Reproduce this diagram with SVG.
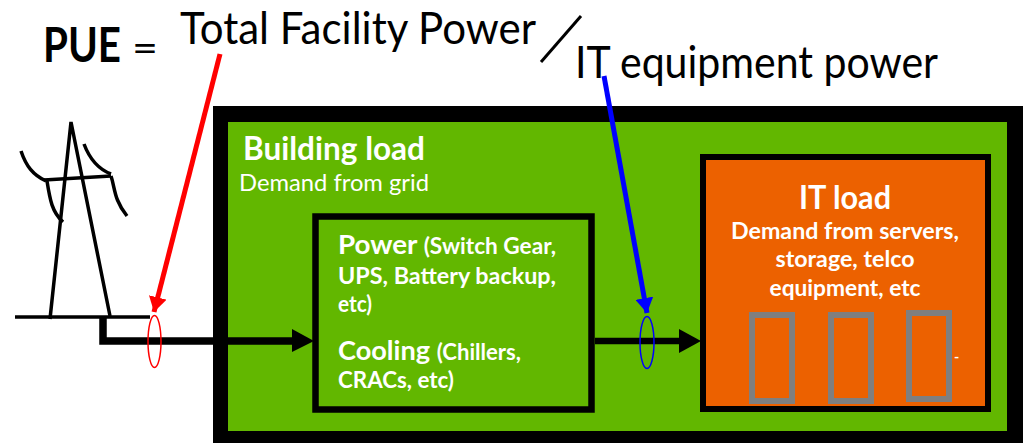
<svg xmlns="http://www.w3.org/2000/svg" width="1024" height="443" viewBox="0 0 1024 443">
<style>
text{font-family:"Lato","Liberation Sans",sans-serif}
.k{fill:#000}
.w{fill:#fff}
.b{font-weight:700}
.s{font-size:22px;font-weight:700}
.m{font-size:27px;font-weight:700}
.t{fill:none;stroke:#000;stroke-width:3.5;stroke-linecap:butt}
.g{fill:none;stroke:#7f7f7f;stroke-width:6}
</style>
<defs>
<marker id="hr" markerUnits="userSpaceOnUse" markerWidth="16" markerHeight="18" refX="15" refY="9" orient="auto"><path d="M0 0L15 9L0 18Z" fill="#f00"/></marker>
<marker id="hb" markerUnits="userSpaceOnUse" markerWidth="16" markerHeight="18" refX="15" refY="9" orient="auto"><path d="M0 0L15 9L0 18Z" fill="#00f"/></marker>
</defs>
<rect width="1024" height="443" fill="#fff"/>
<g id="formula">
<text class="k b" x="43" y="62" font-size="47" textLength="78" lengthAdjust="spacingAndGlyphs">PUE</text>
<text class="k" x="132" y="62" font-size="38" textLength="26" lengthAdjust="spacingAndGlyphs">=</text>
<text class="k" x="180" y="44" font-size="44" textLength="356" lengthAdjust="spacingAndGlyphs">Total Facility Power</text>
<path d="M541 62L581 16" stroke="#000" stroke-width="3" fill="none"/>
<text class="k" x="575" y="78" font-size="44" textLength="363" lengthAdjust="spacingAndGlyphs">IT equipment power</text>
</g>
<g id="building-load">
<rect x="213" y="106" width="810" height="337" fill="#000"/>
<rect x="228" y="122" width="779" height="309" fill="#62b700"/>
<text class="w b" x="243" y="160" font-size="32" textLength="182" lengthAdjust="spacingAndGlyphs">Building load</text>
<text class="w" x="239" y="191" font-size="23" textLength="190" lengthAdjust="spacingAndGlyphs">Demand from grid</text>
</g>
<g id="tower">
<path class="t" d="M50 319L71 122L110 316"/>
<path class="t" d="M44 180L111 176"/>
<path class="t" d="M21 151C26 166 33 175 46 181M84 144C90 160 98 169 111 174"/>
<path class="t" d="M47 181C50 200 52 212 63 222M111 176C115 188 114 200 127 216"/>
<path class="t" d="M15 317H150"/>
</g>
<g id="connectors">
<path d="M103 318V341H292" fill="none" stroke="#000" stroke-width="7.500"/>
<path d="M292 329L314 341L292 352Z" fill="#000"/>
<path d="M595 341H680" stroke="#000" stroke-width="6.500" fill="none"/>
<path d="M679 329L701 341L679 353Z" fill="#000"/>
<path d="M220 54L154 312" stroke="#f00" stroke-width="5" fill="none" marker-end="url(#hr)"/>
<path d="M604 76L647 313" stroke="#00f" stroke-width="5" fill="none" marker-end="url(#hb)"/>
<ellipse cx="154.500" cy="341.500" rx="6.500" ry="26" fill="none" stroke="#f00" stroke-width="1.500"/>
<ellipse cx="647" cy="342.500" rx="7" ry="26" fill="none" stroke="#00f" stroke-width="1.500"/>
</g>
<g id="power-cooling">
<rect x="315.500" y="216.500" width="276" height="193" fill="#62b700" stroke="#000" stroke-width="6.500"/>
<text class="w" x="338" y="254" textLength="218" lengthAdjust="spacingAndGlyphs"><tspan class="m">Power </tspan><tspan class="s">(Switch Gear,</tspan></text>
<text class="w s" x="338" y="284" textLength="218" lengthAdjust="spacingAndGlyphs">UPS, Battery backup,</text>
<text class="w s" x="338" y="312" textLength="34" lengthAdjust="spacingAndGlyphs">etc)</text>
<text class="w" x="338" y="360" textLength="183" lengthAdjust="spacingAndGlyphs"><tspan class="m">Cooling </tspan><tspan class="s">(Chillers,</tspan></text>
<text class="w s" x="338" y="388" textLength="116" lengthAdjust="spacingAndGlyphs">CRACs, etc)</text>
</g>
<g id="it-load">
<rect x="703" y="157" width="285" height="252" fill="#ec6100" stroke="#000" stroke-width="6"/>
<text class="w b" x="845" y="209" font-size="32" text-anchor="middle" textLength="92" lengthAdjust="spacingAndGlyphs">IT load</text>
<text class="w s" x="845" y="239" text-anchor="middle" textLength="228" lengthAdjust="spacingAndGlyphs">Demand from servers,</text>
<text class="w s" x="845" y="267" text-anchor="middle" textLength="139" lengthAdjust="spacingAndGlyphs">storage, telco</text>
<text class="w s" x="845" y="296" text-anchor="middle" textLength="151" lengthAdjust="spacingAndGlyphs">equipment, etc</text>
<rect class="g" x="752" y="315" width="40" height="86"/>
<rect class="g" x="831" y="315" width="40" height="86"/>
<rect class="g" x="909" y="313" width="40" height="86"/>
<text class="w b" x="954" y="362" font-size="14">-</text>
</g>
</svg>
